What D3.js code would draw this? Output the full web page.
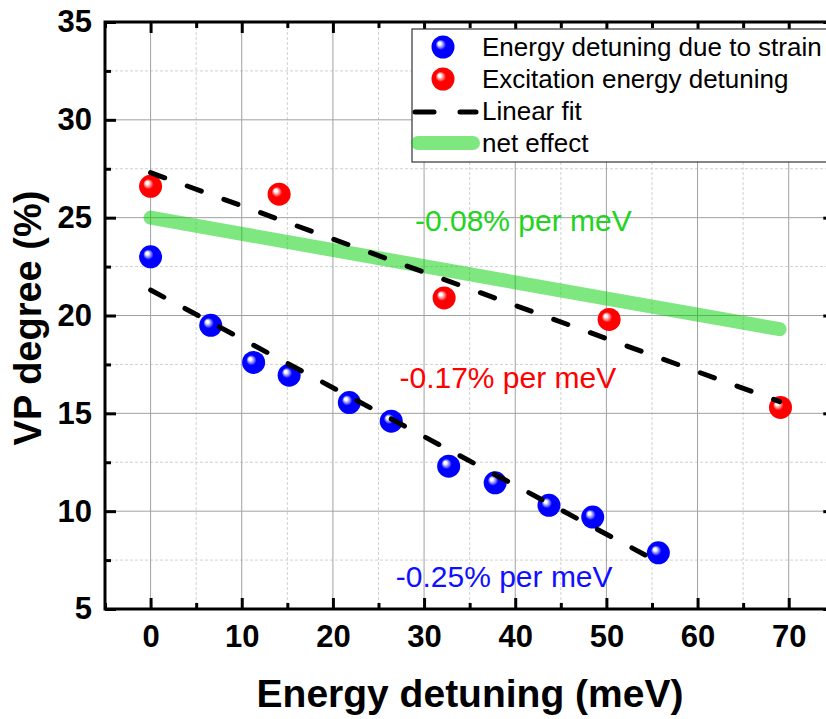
<!DOCTYPE html>
<html><head><meta charset="utf-8">
<script src="https://cdn.jsdelivr.net/npm/d3@7"></script>
<style>
html,body{margin:0;padding:0;background:#fff;}
svg{display:block;font-family:Arial,"Liberation Sans",sans-serif;}
</style></head>
<body><svg id="c" width="826" height="719"></svg>
<script>
// ---- data ----
const strainX = [0, 6.6, 11.3, 15.2, 21.8, 26.4, 32.7, 37.8, 43.7, 48.5, 55.7];
const strainY = [23.0, 19.5, 17.6, 16.95, 15.55, 14.6, 12.3, 11.45, 10.3, 9.7, 7.87];
const excX = [0, 14.1, 32.2, 50.3, 69.1];
const excY = [26.6, 26.2, 20.9, 19.8, 15.3];
const fitExcX = [0, 69];
const fitExcY = [27.3, 15.6];
const fitStrainX = [0, 55.7];
const fitStrainY = [21.3, 7.4];
const netX = [0, 69];
const netY = [25.0, 19.3];
const xTicks = [0, 10, 20, 30, 40, 50, 60, 70];
const yTicks = [5, 10, 15, 20, 25, 30, 35];
const xMinor = [-5, 5, 15, 25, 35, 45, 55, 65, 75];
const yMinor = [7.5, 12.5, 17.5, 22.5, 27.5, 32.5];
const legendLabels = ["Energy detuning due to strain", "Excitation energy detuning", "Linear fit", "net effect"];
const annotations = [
  {text: "-0.08% per meV", x: 29.0, y: 24.3, color: "#22d41e"},
  {text: "-0.17% per meV", x: 27.3, y: 16.3, color: "#ff0000"},
  {text: "-0.25% per meV", x: 26.9, y: 6.1, color: "#1010ff"}
];

// ---- layout ----
const svg = d3.select("#c");
const L = 105, T = 22, B = 609, R = 834.3;
const x = d3.scaleLinear().domain([-5, 75]).range([L, R]);
const y = d3.scaleLinear().domain([5, 35]).range([B, T]);

const defs = svg.append("defs");
function grad(id, col) {
  const g = defs.append("radialGradient").attr("id", id)
    .attr("cx", "50%").attr("cy", "50%").attr("r", "50%")
    .attr("fx", "33%").attr("fy", "33%");
  g.append("stop").attr("offset", "0%").attr("stop-color", "#ffffff");
  g.append("stop").attr("offset", "12%").attr("stop-color", "#ffffff").attr("stop-opacity", 0.9);
  g.append("stop").attr("offset", "45%").attr("stop-color", col);
  g.append("stop").attr("offset", "100%").attr("stop-color", col);
}
grad("gBlue", "#0000ff");
grad("gRed", "#ff0000");

// grid
const grid = svg.append("g");
grid.selectAll(".gxm").data(xMinor.filter(d => d > -5 && d < 75)).enter().append("line")
  .attr("x1", d => x(d)).attr("x2", d => x(d)).attr("y1", T).attr("y2", B)
  .attr("stroke", "#d0d0d0").attr("stroke-width", 1).attr("stroke-dasharray", "3,2");
grid.selectAll(".gym").data(yMinor).enter().append("line")
  .attr("y1", d => y(d)).attr("y2", d => y(d)).attr("x1", L).attr("x2", R)
  .attr("stroke", "#d0d0d0").attr("stroke-width", 1).attr("stroke-dasharray", "3,2");
grid.selectAll(".gx").data(xTicks).enter().append("line")
  .attr("x1", d => x(d)).attr("x2", d => x(d)).attr("y1", T).attr("y2", B)
  .attr("stroke", "#a0a0a0").attr("stroke-width", 1);
grid.selectAll(".gy").data(yTicks.filter(d => d > 5 && d < 35)).enter().append("line")
  .attr("y1", d => y(d)).attr("y2", d => y(d)).attr("x1", L).attr("x2", R)
  .attr("stroke", "#a0a0a0").attr("stroke-width", 1);

const line = d3.line().x(d => x(d[0])).y(d => y(d[1]));

// net effect
svg.append("path").datum(netX.map((v, i) => [v, netY[i]]))
  .attr("d", line).attr("fill", "none").attr("stroke", "#00d000").attr("stroke-opacity", 0.5)
  .attr("stroke-width", 14).attr("stroke-linecap", "round");

// markers
function markers(xs, ys, g) {
  svg.append("g").selectAll("circle").data(xs.map((v, i) => [v, ys[i]])).enter().append("circle")
    .attr("cx", d => x(d[0])).attr("cy", d => y(d[1])).attr("r", 11.5).attr("fill", "url(#" + g + ")");
}
markers(strainX, strainY, "gBlue");
markers(excX, excY, "gRed");

// fits
[[fitExcX, fitExcY], [fitStrainX, fitStrainY]].forEach(([xs, ys]) => {
  svg.append("path").datum(xs.map((v, i) => [v, ys[i]]))
    .attr("d", line).attr("fill", "none").attr("stroke", "#000").attr("stroke-width", 5)
    .attr("stroke-linecap", "round").attr("stroke-dasharray", "15,24");
});

// annotations
svg.append("g").selectAll("text").data(annotations).enter().append("text")
  .attr("x", d => x(d.x)).attr("y", d => y(d.y)).attr("fill", d => d.color)
  .attr("font-size", 30).text(d => d.text);

// axes
const axG = svg.append("g").attr("font-weight", "bold");
function styleAxis(g) {
  g.select(".domain").remove();
  g.selectAll(".tick line").attr("stroke", "#000").attr("stroke-width", 3);
  g.selectAll("text").attr("font-size", 31).attr("font-weight", "bold")
    .attr("font-family", "Arial, 'Liberation Sans', sans-serif").attr("fill", "#000");
}
const xb = axG.append("g").attr("transform", `translate(0,${B})`)
  .call(d3.axisBottom(x).tickValues(xTicks).tickSizeInner(-11).tickSizeOuter(0).tickPadding(16).tickFormat(d3.format("d")));
styleAxis(xb);
const xbm = axG.append("g").attr("transform", `translate(0,${B})`)
  .call(d3.axisBottom(x).tickValues(xMinor).tickSizeInner(-6).tickSizeOuter(0).tickFormat(""));
styleAxis(xbm);
const xt = axG.append("g").attr("transform", `translate(0,${T})`)
  .call(d3.axisTop(x).tickValues(xTicks).tickSizeInner(-11).tickSizeOuter(0).tickFormat(""));
styleAxis(xt);
const xtm = axG.append("g").attr("transform", `translate(0,${T})`)
  .call(d3.axisTop(x).tickValues(xMinor).tickSizeInner(-6).tickSizeOuter(0).tickFormat(""));
styleAxis(xtm);
const yl = axG.append("g").attr("transform", `translate(${L},0)`)
  .call(d3.axisLeft(y).tickValues(yTicks).tickSizeInner(-11).tickSizeOuter(0).tickPadding(13).tickFormat(d3.format("d")));
styleAxis(yl);
yl.selectAll(".tick text").attr("x", -13);
const ylm = axG.append("g").attr("transform", `translate(${L},0)`)
  .call(d3.axisLeft(y).tickValues(yMinor).tickSizeInner(-6).tickSizeOuter(0).tickFormat(""));
styleAxis(ylm);
const yr = axG.append("g").attr("transform", `translate(${R},0)`)
  .call(d3.axisRight(y).tickValues(yTicks).tickSizeInner(-11).tickSizeOuter(0).tickFormat(""));
styleAxis(yr);
const yrm = axG.append("g").attr("transform", `translate(${R},0)`)
  .call(d3.axisRight(y).tickValues(yMinor).tickSizeInner(-6).tickSizeOuter(0).tickFormat(""));
styleAxis(yrm);
// frame
svg.append("rect").attr("x", L).attr("y", T).attr("width", R - L).attr("height", B - T)
  .attr("fill", "none").attr("stroke", "#000").attr("stroke-width", 3);

// axis titles
svg.append("text").attr("x", 470).attr("y", 707).attr("text-anchor", "middle")
  .attr("font-size", 39).attr("font-weight", "bold").text("Energy detuning (meV)");
svg.append("text").attr("transform", "translate(41,318) rotate(-90)").attr("text-anchor", "middle")
  .attr("font-size", 38).attr("font-weight", "bold").text("VP degree (%)");

// legend
const lg = svg.append("g");
lg.append("rect").attr("x", 412).attr("y", 29).attr("width", 430).attr("height", 133)
  .attr("fill", "#fff").attr("stroke", "#333").attr("stroke-width", 1.2);
lg.append("circle").attr("cx", 443).attr("cy", 47).attr("r", 11.5).attr("fill", "url(#gBlue)");
lg.append("circle").attr("cx", 443).attr("cy", 79).attr("r", 11.5).attr("fill", "url(#gRed)");
lg.append("line").attr("x1", 415).attr("x2", 476).attr("y1", 112).attr("y2", 112)
  .attr("stroke", "#000").attr("stroke-width", 5).attr("stroke-linecap", "round").attr("stroke-dasharray", "19,26");
lg.append("line").attr("x1", 418).attr("x2", 473).attr("y1", 143).attr("y2", 143)
  .attr("stroke", "#00d000").attr("stroke-opacity", 0.5).attr("stroke-width", 14).attr("stroke-linecap", "round");
lg.selectAll(".lt").data(legendLabels).enter().append("text")
  .attr("x", 482).attr("y", (d, i) => 56 + i * 32).attr("font-size", 26).text(d => d);
</script></body></html>
